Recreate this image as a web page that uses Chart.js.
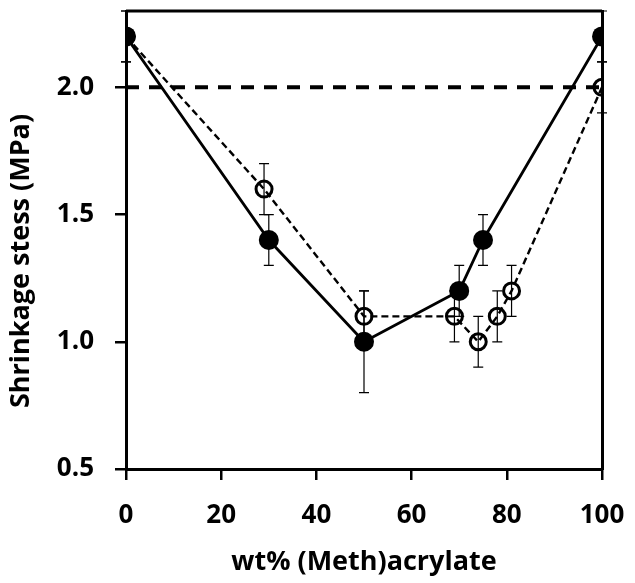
<!DOCTYPE html>
<html>
<head>
<meta charset="utf-8">
<script src="https://cdn.jsdelivr.net/npm/chart.js@4"></script>
<style>
  html, body { margin: 0; padding: 0; background: #fff; }
  #wrap { width: 635px; height: 583px; }
</style>
</head>
<body>
<div id="wrap"><canvas id="grafico"></canvas></div>
<script>
// Dados
const xCheio = [0, 30, 50, 70, 75, 100];
const yCheio = [2.2, 1.4, 1.0, 1.2, 1.4, 2.2];
const errCheioSup = [0.1, 0.1, 0.2, 0.1, 0.1, 0.1];
const errCheioInf = [0.1, 0.1, 0.2, 0.1, 0.1, 0.1];

const xVazio = [0, 29, 50, 69, 74, 78, 81, 100];
const yVazio = [2.2, 1.6, 1.1, 1.1, 1.0, 1.1, 1.2, 2.0];
const errVazio = [0.1, 0.1, 0.1, 0.1, 0.1, 0.1, 0.1, 0.1];

const xRef = [0, 100];
const yRef = [2.0, 2.0];
// linha da moldura superior (y = máximo do eixo)
const xTopo = [0, 100];
const yTopo = [2.3, 2.3];

const xTicks = [0, 20, 40, 60, 80, 100];
const yTicks = [0.5, 1.0, 1.5, 2.0];

const tituloY = 'Shrinkage stess (MPa)';

const pontos = (xs, ys) => xs.map((x, i) => ({ x: x, y: ys[i] }));
const fonteTick = { family: 'Open Sans', weight: 'bold', size: 26 };
const fonteTitulo = { family: 'Open Sans', weight: 'bold', size: 27 };

// eixo só para fazer a moldura da direita
const eixoDireita = {
    type: 'linear', position: 'right', min: 0.5, max: 2.3,
    afterFit: s => { s.width = 0; },
    grid: { drawOnChartArea: false, drawTicks: false },
    border: { color: '#000', width: 3 },
    ticks: { display: false }
};

// Barras de erro e título do eixo Y
const errorBars = {
    id: 'errorBars',
    beforeDatasetsDraw(chart) {
        const ctx = chart.ctx;
        const xs = chart.scales.x, ys = chart.scales.y;
        const barras = [
            { x: xCheio, y: yCheio, up: errCheioSup, dn: errCheioInf },
            { x: xVazio, y: yVazio, up: errVazio, dn: errVazio }
        ];
        ctx.save();
        ctx.setLineDash([]);
        ctx.strokeStyle = '#000';
        ctx.lineWidth = 1.2;
        barras.forEach(b => {
            b.x.forEach((xv, i) => {
                const px = xs.getPixelForValue(xv);
                const top = ys.getPixelForValue(b.y[i] + b.up[i]);
                const bot = ys.getPixelForValue(b.y[i] - b.dn[i]);
                ctx.beginPath();
                ctx.moveTo(px, top); ctx.lineTo(px, bot);
                ctx.moveTo(px - 5, top); ctx.lineTo(px + 5, top);
                ctx.moveTo(px - 5, bot); ctx.lineTo(px + 5, bot);
                ctx.stroke();
            });
        });
        ctx.restore();
    },
    afterDraw(chart) {
        const a = chart.chartArea, ctx = chart.ctx;
        ctx.save();
        ctx.fillStyle = '#000';
        ctx.translate(21, (a.top + a.bottom) / 2 + 21);
        ctx.rotate(-Math.PI / 2);
        ctx.font = 'bold 27px "Open Sans"';
        ctx.textAlign = 'center';
        ctx.textBaseline = 'middle';
        ctx.fillText(tituloY, 0, 0);
        ctx.restore();
    }
};

new Chart(document.getElementById('grafico'), {
    type: 'scatter',
    data: {
        datasets: [
            {
                data: pontos(xCheio, yCheio),
                showLine: true,
                borderColor: '#000',
                borderWidth: 2.8,
                backgroundColor: '#000',
                pointRadius: 10,
                pointBorderWidth: 0
            },
            {
                data: pontos(xVazio, yVazio),
                showLine: true,
                borderColor: '#000',
                borderWidth: 2.4,
                borderDash: [7, 4],
                backgroundColor: 'rgba(0,0,0,0)',
                pointRadius: 8,
                pointBorderWidth: 3,
                pointBorderColor: '#000'
            },
            {
                data: pontos(xRef, yRef),
                showLine: true,
                borderColor: '#000',
                borderWidth: 4,
                borderDash: [13, 10],
                pointRadius: 0
            },
            {
                data: pontos(xTopo, yTopo),
                showLine: true,
                borderColor: '#000',
                borderWidth: 3,
                pointRadius: 0,
                clip: 4
            }
        ]
    },
    options: {
        responsive: true,
        maintainAspectRatio: false,
        animation: false,
        layout: { padding: { top: 11, right: 33, left: 0, bottom: 0 } },
        plugins: { legend: { display: false }, tooltip: { enabled: false } },
        scales: {
            x: {
                type: 'linear',
                min: 0, max: 100,
                afterBuildTicks: s => { s.ticks = xTicks.map(v => ({ value: v })); },
                afterFit: s => { s.height = 114; s.paddingLeft = 0; s.paddingRight = 0; },
                grid: { drawOnChartArea: false, drawTicks: true, tickLength: 11, color: '#000', lineWidth: 2.5 },
                border: { color: '#000', width: 3 },
                ticks: { color: '#000', font: fonteTick, padding: 20 },
                title: { display: true, text: 'wt% (Meth)acrylate', color: '#000', font: fonteTitulo, padding: { top: -3 } }
            },
            y: {
                type: 'linear',
                min: 0.5, max: 2.3,
                afterBuildTicks: s => { s.ticks = yTicks.map(v => ({ value: v })); },
                afterFit: s => { s.width = 126; s.paddingTop = 0; s.paddingBottom = 0; },
                grid: { drawOnChartArea: false, drawTicks: true, tickLength: 11, color: '#000', lineWidth: 2.5 },
                border: { color: '#000', width: 3 },
                ticks: { color: '#000', font: fonteTick, padding: 21, callback: v => v.toFixed(1) },
                title: { display: false }
            },
            yDir: eixoDireita
        }
    },
    plugins: [errorBars]
});
</script>
</body>
</html>
